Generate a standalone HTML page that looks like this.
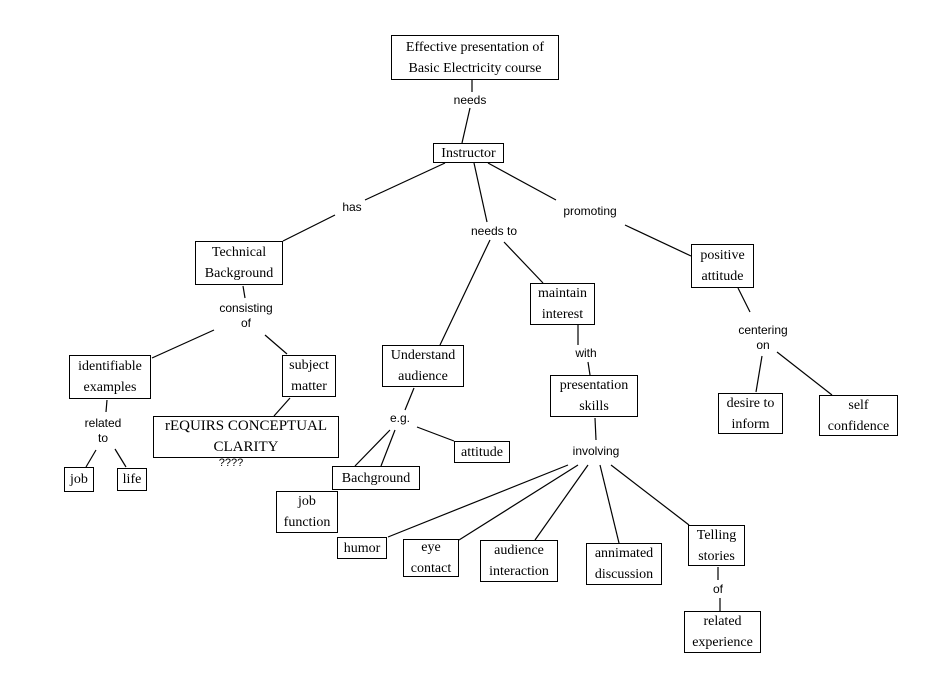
<!DOCTYPE html>
<html><head><meta charset="utf-8"><style>
html,body{margin:0;padding:0;background:#fff;}
#c{position:relative;width:939px;height:695px;overflow:hidden;}
.b{position:absolute;border:1px solid #000;box-sizing:border-box;font-family:"Liberation Serif",serif;font-size:14px;line-height:21px;text-align:center;display:flex;align-items:center;justify-content:center;color:#000;}
.l{position:absolute;font-family:"Liberation Sans",sans-serif;font-size:12px;line-height:15px;text-align:center;transform:translateX(-50%);white-space:nowrap;}
svg{position:absolute;left:0;top:0;}
</style></head><body><div id="c">
<svg width="939" height="695" stroke="#000" stroke-width="1.2">
<line x1="472" y1="79" x2="472" y2="92"/><line x1="470" y1="108" x2="462" y2="143"/>
<line x1="445" y1="163" x2="365" y2="200"/><line x1="335" y1="215" x2="283" y2="241"/>
<line x1="474" y1="163" x2="487" y2="222"/><line x1="490" y1="240" x2="440" y2="345"/><line x1="504" y1="242" x2="543" y2="283"/>
<line x1="488" y1="163" x2="556" y2="200"/><line x1="625" y1="225" x2="691" y2="256"/>
<line x1="243" y1="286" x2="245" y2="298"/><line x1="214" y1="330" x2="152" y2="358"/><line x1="265" y1="335" x2="287" y2="354"/>
<line x1="107" y1="400" x2="106" y2="412"/><line x1="96" y1="450" x2="86" y2="467"/><line x1="115" y1="449" x2="126" y2="467"/>
<line x1="290" y1="398" x2="274" y2="416"/>
<line x1="414" y1="388" x2="405" y2="410"/><line x1="390" y1="430" x2="355" y2="466"/><line x1="395" y1="430" x2="381" y2="466"/><line x1="417" y1="427" x2="454" y2="441"/>
<line x1="578" y1="325" x2="578" y2="345"/><line x1="588" y1="362" x2="590" y2="375"/>
<line x1="595" y1="418" x2="596" y2="440"/>
<line x1="568" y1="465" x2="388" y2="537"/><line x1="578" y1="465" x2="459" y2="540"/><line x1="588" y1="465" x2="535" y2="540"/><line x1="600" y1="465" x2="619" y2="543"/><line x1="611" y1="465" x2="689" y2="525"/>
<line x1="738" y1="288" x2="750" y2="312"/><line x1="762" y1="356" x2="756" y2="392"/><line x1="777" y1="352" x2="832" y2="395"/>
<line x1="718" y1="567" x2="718" y2="580"/><line x1="720" y1="598" x2="720" y2="611"/>
</svg>
<div class="b" style="left:391px;top:35px;width:168px;height:45px">Effective presentation of<br>Basic Electricity course</div>
<div class="b" style="left:433px;top:143px;width:71px;height:20px">Instructor</div>
<div class="b" style="left:195px;top:241px;width:88px;height:44px">Technical<br>Background</div>
<div class="b" style="left:691px;top:244px;width:63px;height:44px">positive<br>attitude</div>
<div class="b" style="left:530px;top:283px;width:65px;height:42px">maintain<br>interest</div>
<div class="b" style="left:382px;top:345px;width:82px;height:42px">Understand<br>audience</div>
<div class="b" style="left:550px;top:375px;width:88px;height:42px">presentation<br>skills</div>
<div class="b" style="left:69px;top:355px;width:82px;height:44px">identifiable<br>examples</div>
<div class="b" style="left:282px;top:355px;width:54px;height:42px">subject<br>matter</div>
<div class="b" style="left:153px;top:416px;width:186px;height:42px;font-size:15px">rEQUIRS CONCEPTUAL<br>CLARITY</div>
<div class="l" style="left:231px;top:456px;font-size:11px">????</div>
<div class="b" style="left:718px;top:393px;width:65px;height:41px">desire to<br>inform</div>
<div class="b" style="left:819px;top:395px;width:79px;height:41px">self<br>confidence</div>
<div class="b" style="left:454px;top:441px;width:56px;height:22px">attitude</div>
<div class="b" style="left:332px;top:466px;width:88px;height:24px">Bachground</div>
<div class="b" style="left:276px;top:491px;width:62px;height:42px">job<br>function</div>
<div class="b" style="left:64px;top:467px;width:30px;height:25px">job</div>
<div class="b" style="left:117px;top:468px;width:30px;height:23px">life</div>
<div class="b" style="left:337px;top:537px;width:50px;height:22px">humor</div>
<div class="b" style="left:403px;top:539px;width:56px;height:38px">eye<br>contact</div>
<div class="b" style="left:480px;top:540px;width:78px;height:42px">audience<br>interaction</div>
<div class="b" style="left:586px;top:543px;width:76px;height:42px">annimated<br>discussion</div>
<div class="b" style="left:688px;top:525px;width:57px;height:41px">Telling<br>stories</div>
<div class="b" style="left:684px;top:611px;width:77px;height:42px">related<br>experience</div>
<div class="l" style="left:470px;top:93px">needs</div>
<div class="l" style="left:352px;top:200px">has</div>
<div class="l" style="left:494px;top:224px">needs to</div>
<div class="l" style="left:590px;top:204px">promoting</div>
<div class="l" style="left:246px;top:301px">consisting<br>of</div>
<div class="l" style="left:103px;top:416px">related<br>to</div>
<div class="l" style="left:400px;top:411px">e.g.</div>
<div class="l" style="left:586px;top:346px">with</div>
<div class="l" style="left:596px;top:444px">involving</div>
<div class="l" style="left:763px;top:323px">centering<br>on</div>
<div class="l" style="left:718px;top:582px">of</div>
</div></body></html>
